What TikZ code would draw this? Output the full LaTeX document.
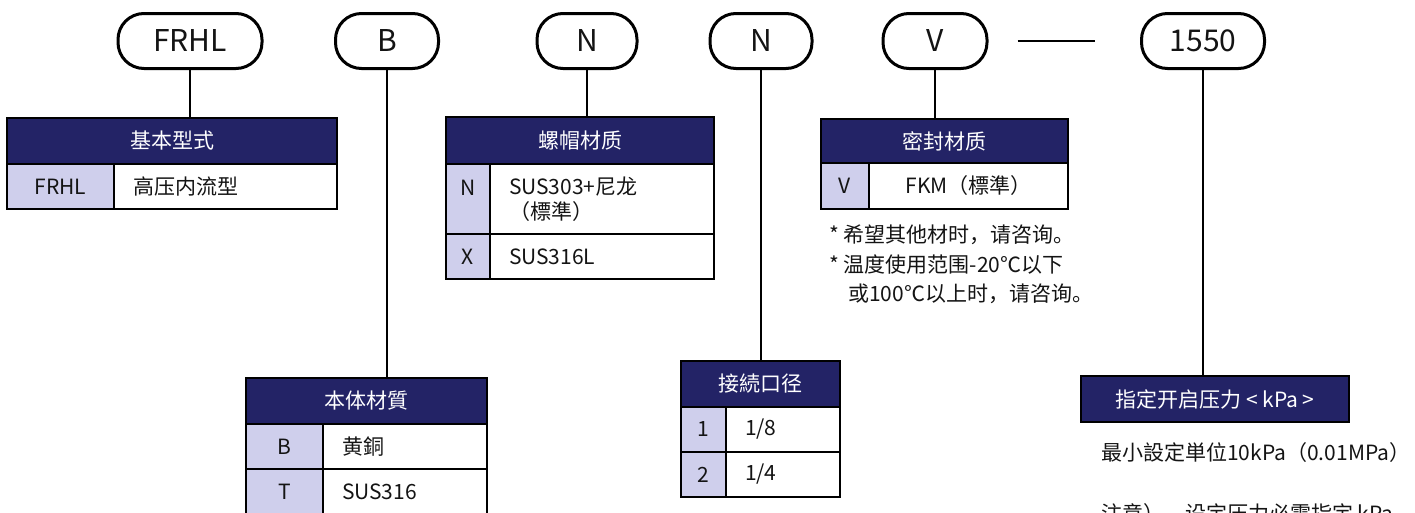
\documentclass[tikz,border=0pt]{standalone}
\usepackage{fontspec}
\setmainfont{Noto Sans CJK SC}
\usetikzlibrary{positioning}
\definecolor{colorhead}{RGB}{35,35,102}
\definecolor{colorkey} {RGB}{207,207,236}
\definecolor{colortext}{RGB}{20,20,20}

\begin{document}
\begin{tikzpicture}[
    x=1pt, y=-1pt,
    font={\fontsize{21}{25}\selectfont},
    text=colortext,
    pill/.style={draw=black,line width=3pt,rounded corners=26pt,minimum height=55pt,inner sep=0pt,font={\fontsize{30}{34}\selectfont}},
    head/.style={draw=black,line width=2.5pt,fill=colorhead,text=white,minimum height=46pt,inner sep=0pt,outer sep=0pt,anchor=north west},
    key/.style={draw=black,line width=2.5pt,fill=colorkey,minimum height=45pt,inner sep=0pt,outer sep=0pt},
    val/.style={draw=black,line width=2.5pt,fill=white,minimum height=45pt,inner ysep=0pt,inner xsep=19pt,outer sep=0pt,align=left},
    note/.style={anchor=west,inner sep=0pt},
    link/.style={line width=2pt},
]

    \useasboundingbox (0,0) rectangle (1415,512);

    % Code pills
    \node[pill,minimum width=144pt] (codefrhl) at (190,41)  {FRHL};
    \node[pill,minimum width=103pt] (codeb)    at (387,41)  {B};
    \node[pill,minimum width=100pt] (coden1)   at (587,41)  {N};
    \node[pill,minimum width=102pt] (coden2)   at (761,41)  {N};
    \node[pill,minimum width=104pt] (codev)    at (935,41)  {V};
    \node[pill,minimum width=123pt] (code1550) at (1203,41) {1550};
    \draw[line width=2.5pt,shorten <=29pt,shorten >=45pt] (codev.east) -- (code1550.west);

    % Basic type
    \node[head,minimum width=330pt] (typehead) at (7,118) {基本型式};
    \node[key,minimum width=107pt,below right=0pt and 0pt of typehead.south west] (typekey1) {FRHL};
    \node[val,text width=185pt,right=0pt of typekey1] (typeval1) {高压内流型};
    \draw[link] (codefrhl.south) -- (codefrhl.south |- typehead.north);

    % Body material
    \node[head,minimum width=241pt] (bodyhead) at (246,378) {本体材質};
    \node[key,minimum width=77pt,below right=0pt and 0pt of bodyhead.south west] (bodykey1) {B};
    \node[val,text width=126pt,right=0pt of bodykey1] (bodyval1) {黄銅};
    \node[key,minimum width=77pt,below=0pt of bodykey1] (bodykey2) {T};
    \node[val,text width=126pt,right=0pt of bodykey2] (bodyval2) {SUS316};
    \draw[link] (codeb.south) -- (codeb.south |- bodyhead.north);

    % Cap material
    \node[head,minimum width=268pt,minimum height=47pt] (caphead) at (446,117) {螺帽材质};
    \node[key,minimum width=44pt,minimum height=70pt,below right=0pt and 0pt of caphead.south west] (capkey1) {};
    \node[anchor=center] (capkey1txt) at ([yshift=11pt]capkey1.center) {N};
    \node[val,text width=186pt,minimum height=70pt,right=0pt of capkey1] (capval1) {SUS303+尼龙\\（標準）};
    \node[key,minimum width=44pt,below=0pt of capkey1] (capkey2) {X};
    \node[val,text width=186pt,right=0pt of capkey2] (capval2) {SUS316L};
    \draw[link] (coden1.south) -- (coden1.south |- caphead.north);

    % Port size
    \node[head,minimum width=159pt] (porthead) at (681,361) {接続口径};
    \node[key,minimum width=45pt,below right=0pt and 0pt of porthead.south west] (portkey1) {1};
    \node[val,text width=76pt,right=0pt of portkey1] (portval1) {1/8};
    \node[key,minimum width=45pt,below=0pt of portkey1] (portkey2) {2};
    \node[val,text width=76pt,right=0pt of portkey2] (portval2) {1/4};
    \draw[link] (coden2.south) -- (coden2.south |- porthead.north);

    % Seal material
    \node[head,minimum width=247pt,minimum height=44pt] (sealhead) at (821,119) {密封材质};
    \node[key,minimum width=48pt,minimum height=46pt,below right=0pt and 0pt of sealhead.south west] (sealkey1) {V};
    \node[val,text width=161pt,minimum height=46pt,align=center,right=0pt of sealkey1] (sealval1) {FKM（標準）};
    \draw[link] (codev.south) -- (codev.south |- sealhead.north);
    \node[note] (sealnote1) at (829,235) {* 希望其他材时，请咨询。};
    \node[note] (sealnote2) at (829,265) {* 温度使用范围-20℃以下};
    \node[note] (sealnote3) at (848,294) {或100℃以上时，请咨询。};

    % Cracking pressure
    \node[head,minimum width=268pt] (presshead) at (1081,376) {指定开启压力 < kPa >};
    \draw[link] (code1550.south) -- (code1550.south |- presshead.north);
    \node[note] (pressnote1) at (1101,453) {最小設定単位10kPa（0.01MPa）};
    \node[note] (pressnote2) at (1101,514) {注意）　设定压力必需指定 kPa};

\end{tikzpicture}
\end{document}
